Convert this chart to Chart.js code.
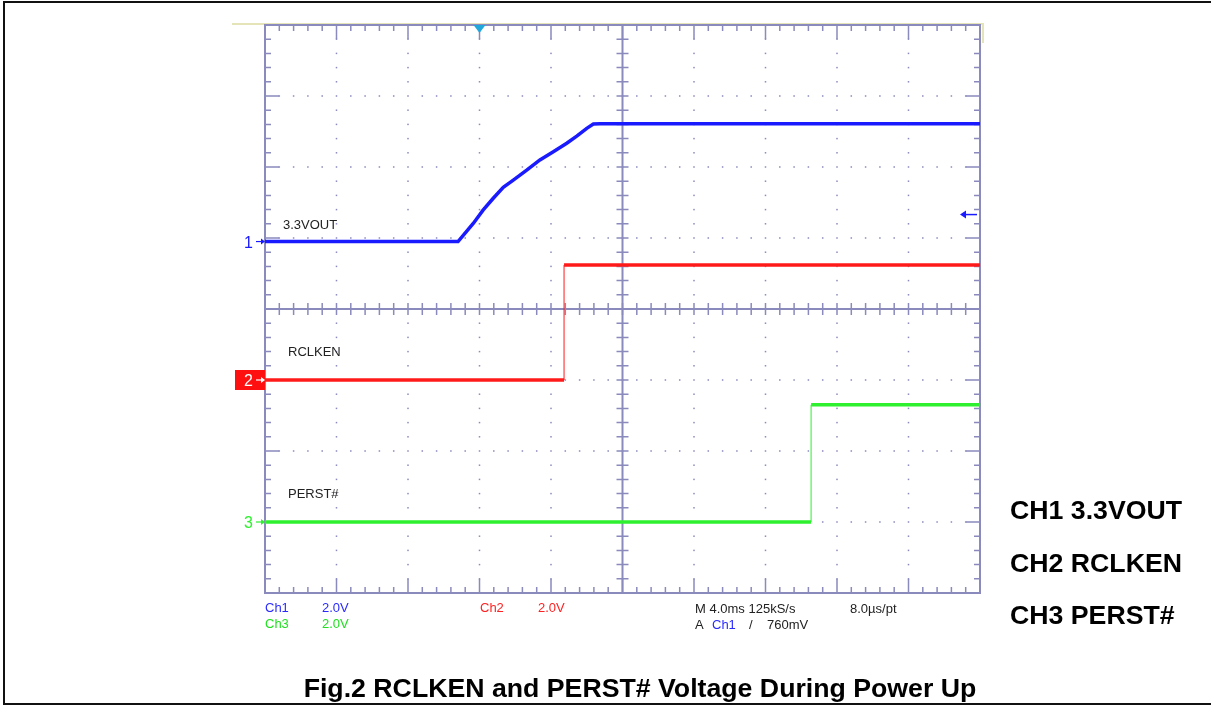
<!DOCTYPE html>
<html>
<head>
<meta charset="utf-8">
<script src="https://cdn.jsdelivr.net/npm/chart.js@4.4.1/dist/chart.umd.min.js"></script>
<style>
  body { margin: 0; background: #fff; }
  #wrap { position: relative; width: 1211px; height: 706px; overflow: hidden; font-family: "Liberation Sans", Arial, sans-serif; }
  #frame { position: absolute; left: 3px; top: 1px; width: 1230px; height: 700px; border: 2px solid #111; }
  canvas { position: absolute; left: 0; top: 0; }
  .t { position: absolute; white-space: nowrap; line-height: 1; transform: translateY(-50%); }
  .scope { font-size: 13px; color: #222; }
  .big { font-size: 26.7px; font-weight: bold; color: #000; }
  .blue { color: #2a2aff; }
  .red { color: #ff2222; }
  .green { color: #22e022; }
</style>
</head>
<body>
<div id="wrap">
  <div id="frame"></div>
  <canvas id="scope" width="1211" height="706"></canvas>
  <div id="labels"></div>
</div>
<script>
// time in ms relative to trigger, volts per channel (scope 2 V/div, 4 ms/div)
const ch1TimeMs = [-12, -1.2, -0.35, 0.21, 0.77, 1.33, 1.89, 2.64, 3.38, 4.13, 4.88, 5.44, 6.0, 6.37, 6.74, 28];
const ch1Volts  = [0, 0, 0.51, 0.89, 1.22, 1.53, 1.73, 2.01, 2.30, 2.53, 2.77, 2.97, 3.19, 3.31, 3.32, 3.32];
const ch2TimeMs = [-12, 4.73, 4.73, 28];
const ch2Volts  = [0, 0, 3.24, 3.24];
const ch3TimeMs = [-12, 18.55, 18.55, 28];
const ch3Volts  = [0, 0, 3.30, 3.30];

const channelNames = ['3.3VOUT', 'RCLKEN', 'PERST#'];
const channelOffsetDiv = [4.95, 3.0, 1.0];
const voltsPerDiv = 2;
const msPerDiv = 4;
const timeRangeMs = [-12, 28];
const triggerLevelV = 0.76;

const traceColors = ['#1a1aff', '#ff1a1a', '#2ef02e'];
const gridColor = '#8a8abd';

function toPoints(times, volts, ch) {
  return times.map((t, i) => ({ x: t, y: channelOffsetDiv[ch] + volts[i] / voltsPerDiv }));
}

const graticule = {
  id: 'graticule',
  beforeDatasetsDraw(chart) {
    const { ctx, chartArea: a, scales: { x, y } } = chart;
    ctx.save();
    // capture edge
    ctx.strokeStyle = '#e4e4b8';
    ctx.lineWidth = 2;
    ctx.beginPath();
    ctx.moveTo(a.left - 33, a.top - 1);
    ctx.lineTo(a.right + 3, a.top - 1);
    ctx.lineTo(a.right + 3, a.top + 18);
    ctx.stroke();

    ctx.strokeStyle = gridColor;
    ctx.fillStyle = gridColor;
    ctx.lineWidth = 2;
    ctx.strokeRect(a.left, a.top, a.right - a.left, a.bottom - a.top);

    const cx = x.getPixelForValue(timeRangeMs[0] + 5 * msPerDiv);
    const cy = y.getPixelForValue(4);
    ctx.beginPath();
    ctx.moveTo(cx, a.top); ctx.lineTo(cx, a.bottom);
    ctx.moveTo(a.left, cy); ctx.lineTo(a.right, cy);
    ctx.stroke();

    ctx.lineWidth = 1.5;
    ctx.beginPath();
    for (let i = 1; i < 50; i++) {
      const px = x.getPixelForValue(timeRangeMs[0] + i * msPerDiv / 5);
      const len = i % 5 === 0 ? 14 : 6;
      ctx.moveTo(px, a.top); ctx.lineTo(px, a.top + len);
      ctx.moveTo(px, a.bottom); ctx.lineTo(px, a.bottom - len);
      ctx.moveTo(px, cy - 6); ctx.lineTo(px, cy + 6);
    }
    for (let j = 1; j < 40; j++) {
      const py = y.getPixelForValue(j / 5);
      const len = j % 5 === 0 ? 14 : 6;
      ctx.moveTo(a.left, py); ctx.lineTo(a.left + len, py);
      ctx.moveTo(a.right, py); ctx.lineTo(a.right - len, py);
      ctx.moveTo(cx - 6, py); ctx.lineTo(cx + 6, py);
    }
    ctx.stroke();

    // dotted graticule
    for (let k = 1; k < 10; k++) {
      if (k === 5) continue;
      const px = x.getPixelForValue(timeRangeMs[0] + k * msPerDiv);
      for (let j = 1; j < 40; j++) {
        if (j % 5 === 0) continue;
        ctx.fillRect(px - 0.75, y.getPixelForValue(j / 5) - 0.75, 1.5, 1.5);
      }
    }
    for (let m = 1; m < 8; m++) {
      if (m === 4) continue;
      const py = y.getPixelForValue(m);
      for (let i = 1; i < 50; i++) {
        ctx.fillRect(x.getPixelForValue(timeRangeMs[0] + i * msPerDiv / 5) - 0.75, py - 0.75, 1.5, 1.5);
      }
    }
    ctx.restore();
  },
  afterDatasetsDraw(chart) {
    const { ctx, chartArea: a, scales: { x, y } } = chart;
    ctx.save();
    // trigger position
    const tx = x.getPixelForValue(0);
    ctx.fillStyle = '#20a8dc';
    ctx.beginPath();
    ctx.moveTo(tx - 6, a.top); ctx.lineTo(tx + 6, a.top); ctx.lineTo(tx, a.top + 8);
    ctx.closePath(); ctx.fill();

    // trigger level
    const ty = y.getPixelForValue(channelOffsetDiv[0] + triggerLevelV / voltsPerDiv);
    ctx.strokeStyle = traceColors[0];
    ctx.fillStyle = traceColors[0];
    ctx.lineWidth = 1.5;
    ctx.beginPath();
    ctx.moveTo(a.right - 3, ty); ctx.lineTo(a.right - 17, ty); ctx.stroke();
    ctx.beginPath();
    ctx.moveTo(a.right - 20, ty); ctx.lineTo(a.right - 14, ty - 4); ctx.lineTo(a.right - 14, ty + 4);
    ctx.closePath(); ctx.fill();

    // channel ground markers
    channelOffsetDiv.forEach((off, ch) => {
      const py = y.getPixelForValue(off);
      if (ch === 1) {
        ctx.fillStyle = '#ff1010';
        ctx.fillRect(a.left - 30, py - 10, 30, 20);
      }
      const c = ch === 1 ? '#fff' : traceColors[ch];
      ctx.strokeStyle = c; ctx.fillStyle = c; ctx.lineWidth = 1.2;
      ctx.beginPath(); ctx.moveTo(a.left - 9, py); ctx.lineTo(a.left - 3, py); ctx.stroke();
      ctx.beginPath(); ctx.moveTo(a.left, py); ctx.lineTo(a.left - 4, py - 3); ctx.lineTo(a.left - 4, py + 3);
      ctx.closePath(); ctx.fill();
    });
    ctx.restore();
  }
};

const chart = new Chart(document.getElementById('scope'), {
  type: 'line',
  data: {
    datasets: [
      { data: toPoints(ch1TimeMs, ch1Volts, 0), borderColor: traceColors[0] },
      { data: toPoints(ch2TimeMs, ch2Volts, 1), borderColor: traceColors[1] },
      { data: toPoints(ch3TimeMs, ch3Volts, 2), borderColor: traceColors[2] }
    ]
  },
  options: {
    responsive: false,
    animation: false,
    layout: { padding: { left: 265, right: 231, top: 25, bottom: 113 } },
    elements: { point: { radius: 0 }, line: { tension: 0, borderWidth: 3.5 } },
    datasets: {
      line: {
        segment: { borderWidth: (c) => (c.p0.parsed.x === c.p1.parsed.x ? 1 : 3.5) }
      }
    },
    scales: {
      x: { type: 'linear', min: timeRangeMs[0], max: timeRangeMs[1], display: false },
      y: { type: 'linear', min: 0, max: 8, display: false }
    },
    plugins: { legend: { display: false }, tooltip: { enabled: false } }
  },
  plugins: [graticule]
});

const labels = document.getElementById('labels');
function addText(text, left, top, cls) {
  const d = document.createElement('div');
  d.className = 't ' + cls;
  d.textContent = text;
  d.style.left = left + 'px';
  d.style.top = top + 'px';
  labels.appendChild(d);
  return d;
}

const ys = chart.scales.y;
const area = chart.chartArea;
const labelX = [area.left + 18, area.left + 23, area.left + 23];
channelNames.forEach((name, ch) => {
  const py = ys.getPixelForValue(channelOffsetDiv[ch]);
  addText(name, labelX[ch], py - (ch === 0 ? 18 : 29), 'scope');
  const digit = addText(String(ch + 1), area.left - 21, py + 1, 'scope');
  digit.style.fontSize = '16px';
  digit.style.color = ch === 1 ? '#fff' : traceColors[ch];
});

addText('Ch1', 265, 607, 'scope blue');
addText('2.0V', 322, 607, 'scope blue');
addText('Ch3', 265, 623, 'scope green');
addText('2.0V', 322, 623, 'scope green');
addText('Ch2', 480, 607, 'scope red');
addText('2.0V', 538, 607, 'scope red');
addText('M 4.0ms 125kS/s', 695, 608, 'scope');
addText('8.0\u00b5s/pt', 850, 608, 'scope');
addText('A', 695, 624, 'scope');
addText('Ch1', 712, 624, 'scope blue');
addText('/', 749, 624, 'scope');
addText('760mV', 767, 624, 'scope');

addText('CH1 3.3VOUT', 1010, 510, 'big');
addText('CH2 RCLKEN', 1010, 563, 'big');
addText('CH3 PERST#', 1010, 615, 'big');
const cap = addText('Fig.2 RCLKEN and PERST# Voltage During Power Up', 640, 688, 'big');
cap.style.transform = 'translate(-50%, -50%)';
</script>
</body>
</html>
